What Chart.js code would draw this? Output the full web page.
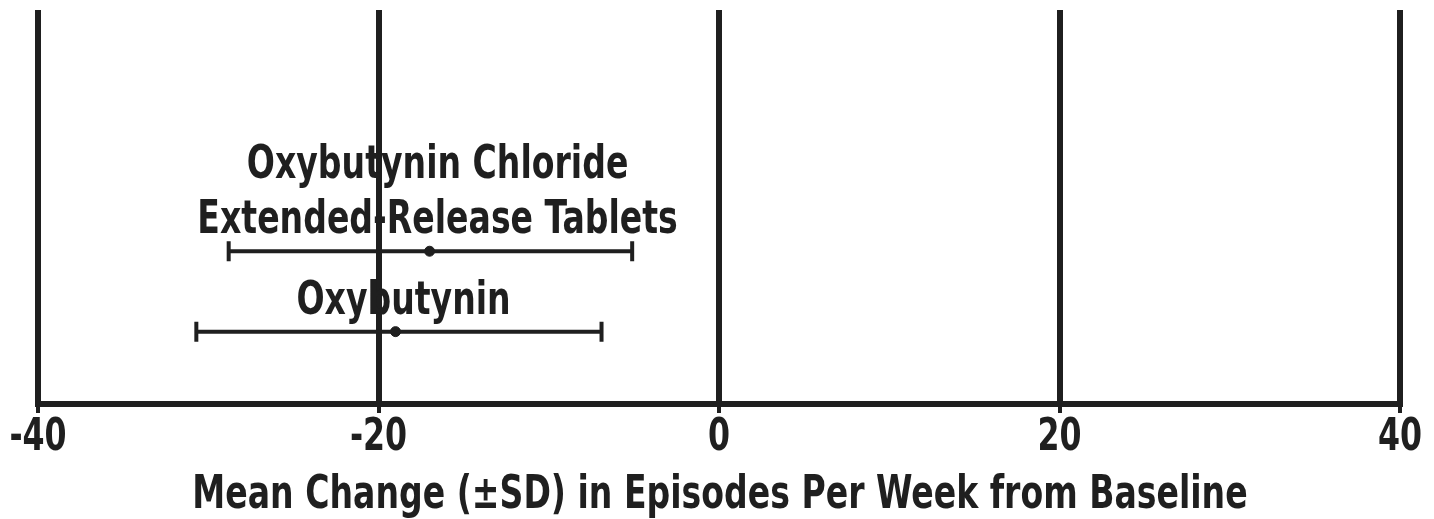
<!DOCTYPE html>
<html>
<head>
<meta charset="utf-8">
<script src="https://cdn.jsdelivr.net/npm/chart.js@4.4.0/dist/chart.umd.min.js"></script>
<style>
  html, body { margin: 0; padding: 0; background: #fff; }
  #wrap { width: 1434px; height: 519px; position: relative; }
</style>
</head>
<body>
<div id="wrap"><canvas id="chart"></canvas></div>
<script>
const FONT = "'Liberation Sans Narrow', 'Arial Narrow', 'DejaVu Sans Condensed', sans-serif";
const INK = "#1f1f1f";
const SQUEEZE = 0.8; // no narrow font here, so squeeze the condensed one

// rows, top to bottom
const groupLabels = [
  ["Oxybutynin Chloride", "Extended-Release Tablets"],
  ["Oxybutynin"]
];
const rowValues = [2, 1];
const meanChange = [-17, -19];
const lowerSD = [-28.8, -30.7];
const upperSD = [-5.1, -6.9];

const xTicks = [-40, -20, 0, 20, 40];
const xTitle = "Mean Change (\u00B1SD) in Episodes Per Week from Baseline";

function narrowText(ctx, text, x, y) {
  ctx.save();
  ctx.translate(x, y);
  ctx.scale(SQUEEZE, 1);
  ctx.fillText(text, 0, 0);
  ctx.restore();
}

const errorBars = {
  id: "errorBars",
  afterDatasetsDraw(chart) {
    const ctx = chart.ctx;
    const xs = chart.scales.x;
    const ys = chart.scales.y;
    ctx.save();
    ctx.strokeStyle = INK;
    ctx.lineWidth = 4;
    meanChange.forEach((m, i) => {
      const y = ys.getPixelForValue(rowValues[i]);
      const x1 = xs.getPixelForValue(lowerSD[i]);
      const x2 = xs.getPixelForValue(upperSD[i]);
      ctx.beginPath();
      ctx.moveTo(x1, y);
      ctx.lineTo(x2, y);
      ctx.moveTo(x1, y - 10);
      ctx.lineTo(x1, y + 10);
      ctx.moveTo(x2, y - 10);
      ctx.lineTo(x2, y + 10);
      ctx.stroke();
    });

    ctx.fillStyle = INK;
    ctx.font = "bold 46px " + FONT;
    ctx.textAlign = "center";
    ctx.textBaseline = "alphabetic";
    groupLabels.forEach((lines, i) => {
      const x = xs.getPixelForValue(meanChange[i]) + 8;
      const y = ys.getPixelForValue(rowValues[i]);
      lines.forEach((t, k) => {
        const fromBottom = lines.length - 1 - k;
        narrowText(ctx, t, x, y - 18 - fromBottom * 55);
      });
    });
    ctx.restore();
  }
};

// tick labels and axis title, drawn at the x scale's own tick pixels
const axisText = {
  id: "axisText",
  afterDraw(chart) {
    const ctx = chart.ctx;
    const xs = chart.scales.x;
    const base = chart.chartArea.bottom;
    ctx.save();
    ctx.fillStyle = INK;
    ctx.textAlign = "center";
    ctx.textBaseline = "alphabetic";
    ctx.font = "bold 44px " + FONT;
    xTicks.forEach((v) => {
      narrowText(ctx, String(v), xs.getPixelForValue(v), base + 46);
    });
    ctx.font = "bold 46px " + FONT;
    narrowText(ctx, xTitle, (xs.left + xs.right) / 2 + 1, base + 104);
    ctx.restore();
  }
};

function buildChart() {
  const ctx = document.getElementById("chart");
  return new Chart(ctx, {
    type: "scatter",
    data: {
      datasets: [{
        label: "Mean",
        data: meanChange.map((m, i) => ({ x: m, y: rowValues[i] })),
        pointRadius: 5,
        pointBackgroundColor: INK,
        pointBorderColor: INK,
        showLine: false
      }]
    },
    options: {
      responsive: true,
      maintainAspectRatio: false,
      animation: false,
      layout: { padding: { left: 38, right: 34, top: 10, bottom: 106 } },
      plugins: {
        legend: { display: false },
        tooltip: { enabled: false }
      },
      scales: {
        x: {
          type: "linear",
          min: -40,
          max: 40,
          afterBuildTicks: (scale) => {
            scale.ticks = xTicks.map((v) => ({ value: v }));
          },
          ticks: { display: false },
          grid: {
            color: INK,
            lineWidth: 6,
            drawTicks: true,
            tickLength: 9,
            tickWidth: 4
          },
          border: { display: true, color: INK, width: 6 }
        },
        y: {
          type: "linear",
          min: 0.1,
          max: 5,
          display: false
        }
      }
    },
    plugins: [errorBars, axisText]
  });
}

document.addEventListener("DOMContentLoaded", () => {
  buildChart();
});
</script>
</body>
</html>
